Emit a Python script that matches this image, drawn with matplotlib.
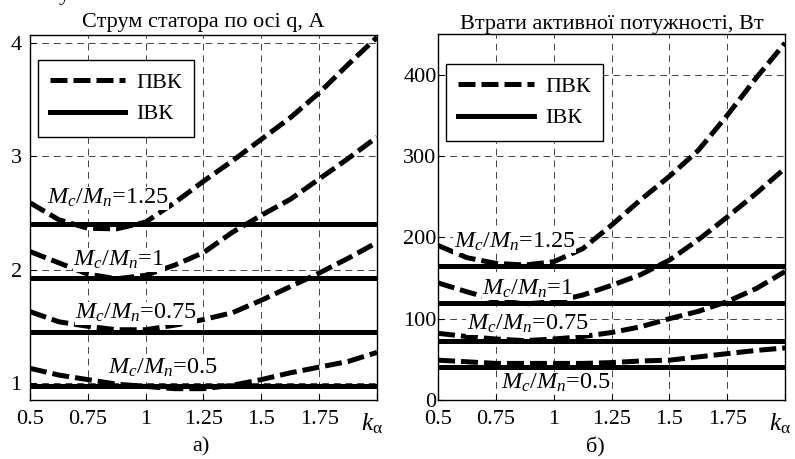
import matplotlib
matplotlib.use('Agg')
import matplotlib.pyplot as plt

plt.rcParams['font.family'] = ['Liberation Serif', 'DejaVu Serif']
plt.rcParams['mathtext.fontset'] = 'custom'
plt.rcParams['mathtext.rm'] = 'Liberation Serif'
plt.rcParams['mathtext.it'] = 'Liberation Serif:italic'
plt.rcParams['font.size'] = 16

# k_alpha values at which the curves were read
k = [0.5, 0.625, 0.75, 0.875, 1.0, 1.125, 1.25, 1.375, 1.5, 1.625, 1.75, 1.875, 2.0]
loads = ['1.25', '1', '0.75', '0.5']

# stator current on q axis, A  (ПВК curves, ІВК levels)
iq_pvk_125 = [2.59, 2.44, 2.365, 2.36, 2.42, 2.59, 2.78, 2.96, 3.15, 3.34, 3.56, 3.81, 4.05]
iq_pvk_100 = [2.16, 2.06, 1.96, 1.92, 1.95, 2.04, 2.15, 2.33, 2.48, 2.62, 2.80, 2.98, 3.17]
iq_pvk_075 = [1.63, 1.54, 1.50, 1.47, 1.47, 1.51, 1.56, 1.62, 1.73, 1.85, 1.97, 2.10, 2.24]
iq_pvk_050 = [1.13, 1.07, 1.03, 0.99, 0.97, 0.95, 0.95, 0.98, 1.03, 1.09, 1.14, 1.19, 1.27]
iq_ivk = [2.40, 1.924, 1.45, 0.976]

# active power losses, W
p_pvk_125 = [190, 175, 168, 166, 170, 186, 215, 246, 275, 307, 350, 396, 439]
p_pvk_100 = [144, 133, 123, 118, 121, 129, 141, 154, 172, 197, 225, 254, 285]
p_pvk_075 = [82, 78, 75, 73, 75, 78, 83, 90, 100, 109, 121, 137, 158]
p_pvk_050 = [49, 47, 45, 45, 45, 45, 46, 48, 49, 53, 57, 61, 64]
p_ivk = [165, 119, 72, 41]

xticks = [0.5, 0.75, 1, 1.25, 1.5, 1.75, 2.0]
xticklabels = ['0.5', '0.75', '1', '1.25', '1.5', '1.75', '']

fig = plt.figure(figsize=(7.95, 4.59), dpi=100)
ax1 = fig.add_axes([0.0377, 0.1285, 0.4365, 0.7952])
ax2 = fig.add_axes([0.551, 0.1285, 0.4365, 0.7974])

dash = (3.4, 1.2)
lw = 3.6


def draw(ax, curves, levels, label_pos, yticks, ylim, title, tpad, ypad):
    for y in curves:
        ax.plot(k, y, color='black', lw=lw, dashes=dash, zorder=3)
    for lev in levels:
        ax.plot([k[0], k[-1]], [lev, lev], color='black', lw=lw, zorder=3)
    ax.plot([], [], color='black', lw=lw, dashes=dash, label='ПВК')
    ax.plot([], [], color='black', lw=lw, label='ІВК')
    for name, (tx, ty) in zip(loads, label_pos):
        ax.text(tx, ty, r'$M_c/M_n$=' + name, va='center', ha='left', zorder=4,
                fontsize=17.5,
                bbox=dict(facecolor='white', edgecolor='none', pad=0.3))
    ax.set_xlim(0.5, 2.0)
    ax.set_ylim(*ylim)
    ax.set_xticks(xticks)
    ax.set_xticklabels(xticklabels)
    ax.set_yticks(yticks)
    ax.grid(True, color='#444444', lw=0.7, dashes=(7, 5))
    ax.tick_params(direction='in', length=4, width=0.8, colors='black')
    ax.tick_params(axis='x', pad=7)
    ax.tick_params(axis='y', pad=ypad)
    for s in ax.spines.values():
        s.set_linewidth(1.0)
    ax.set_title(title, fontsize=16, pad=tpad)
    # axis name k_alpha sits where the last tick label would be
    ax.annotate(r'$k_{\mathrm{\alpha}}$', xy=(1, 0), xycoords='axes fraction',
                xytext=(4.3, -21.6), textcoords='offset points',
                ha='right', va='baseline', fontsize=18)


draw(ax1, [iq_pvk_125, iq_pvk_100, iq_pvk_075, iq_pvk_050], iq_ivk,
     [(0.572, 2.63), (0.687, 2.085), (0.695, 1.615), (0.839, 1.13)],
     [1, 2, 3, 4], (0.85, 4.07), 'Струм статора по осі q, А', 6, 6)
draw(ax2, [p_pvk_125, p_pvk_100, p_pvk_075, p_pvk_050], p_ivk,
     [(0.568, 194.6), (0.69, 137), (0.625, 94), (0.77, 20.5)],
     [0, 100, 200, 300, 400], (0, 450), 'Втрати активної потужності, Вт', 3, 1)

for ax, anchor in [(ax1, (0.022, 0.932)), (ax2, (0.023, 0.918))]:
    leg = ax.legend(loc='upper left', bbox_to_anchor=anchor, borderaxespad=0,
                    fancybox=False, framealpha=1, edgecolor='black',
                    handlelength=3.4, handletextpad=0.5, borderpad=0.55,
                    labelspacing=0.5, fontsize=16)
    leg.get_frame().set_linewidth(1.0)
    leg.set_zorder(5)

fig.text(201 / 795, 1 - 447 / 459, 'а)', ha='center', va='center', fontsize=16)
fig.text(595 / 795, 1 - 447 / 459, 'б)', ha='center', va='center', fontsize=16)
fig.text(64 / 795, 1.0, 'у', ha='center', va='baseline', fontsize=16)

fig.savefig('out.png', dpi=100)
